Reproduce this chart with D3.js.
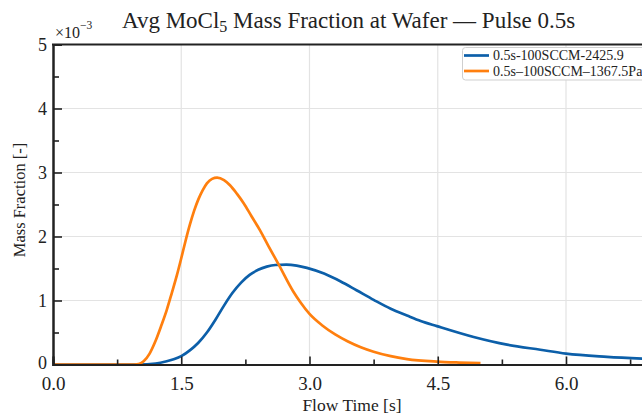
<!DOCTYPE html>
<html><head><meta charset="utf-8">
<script src="https://cdn.jsdelivr.net/npm/d3@7"></script>
<style>
html,body{margin:0;padding:0;background:#fff;overflow:hidden;}
svg{display:block;font-family:"Liberation Serif","Times New Roman",serif;}
</style></head>
<body><svg id="c" width="642" height="418"></svg>
<script>
// ---- data (mass fraction in units of 1e-3) ----
const seriesNames = ["0.5s-100SCCM-2425.9", "0.5s\u2013100SCCM\u20131367.5Pa"];
const blueTime = [0, 1.0, 1.2, 1.33, 1.42, 1.50, 1.60, 1.70, 1.80, 1.90, 2.00, 2.10, 2.20, 2.30, 2.40, 2.50, 2.60, 2.73, 2.85, 2.97, 3.17, 3.36, 3.55, 3.75, 3.95, 4.14, 4.30, 4.49, 4.92, 5.31, 5.70, 6.00, 6.48, 7.00];
const blueVals = [0, 0, 0.015, 0.05, 0.085, 0.13, 0.22, 0.34, 0.50, 0.70, 0.92, 1.12, 1.28, 1.40, 1.48, 1.53, 1.555, 1.56, 1.545, 1.51, 1.42, 1.30, 1.16, 1.01, 0.87, 0.765, 0.68, 0.60, 0.43, 0.31, 0.23, 0.17, 0.12, 0.085];
const orangeTime = [0, 0.95, 1.0, 1.06, 1.13, 1.20, 1.27, 1.33, 1.39, 1.45, 1.50, 1.55, 1.60, 1.65, 1.70, 1.75, 1.80, 1.86, 1.92, 2.00, 2.07, 2.15, 2.23, 2.32, 2.42, 2.52, 2.64, 2.81, 2.90, 3.00, 3.15, 3.30, 3.45, 3.60, 3.75, 3.95, 4.14, 4.49, 4.75, 5.00];
const orangeVals = [0, 0, 0.005, 0.05, 0.17, 0.37, 0.62, 0.85, 1.12, 1.40, 1.66, 1.93, 2.18, 2.40, 2.58, 2.72, 2.83, 2.90, 2.92, 2.88, 2.80, 2.67, 2.52, 2.32, 2.10, 1.85, 1.56, 1.14, 0.96, 0.79, 0.61, 0.47, 0.36, 0.27, 0.20, 0.13, 0.085, 0.045, 0.03, 0.02];
const xMajorTicks = [0, 1.5, 3.0, 4.5, 6.0];
const xMinorTicks = [0.75, 2.25, 3.75, 5.25, 6.75];
const yMajorTicks = [0, 1, 2, 3, 4, 5];
const yMinorTicks = [0.5, 1.5, 2.5, 3.5, 4.5];
const colors = ["#0c5fa9", "#ff7f0e"];

const svg = d3.select("#c");
const x = d3.scaleLinear().domain([0, 7]).range([53, 651.5]);
const y = d3.scaleLinear().domain([0, 5]).range([364.5, 44.5]);

// grid
svg.append("g").selectAll("line").data(xMajorTicks.filter(d => d > 0)).join("line")
  .attr("x1", d => x(d)).attr("x2", d => x(d)).attr("y1", y(0)).attr("y2", y(5))
  .attr("stroke", "#e3e3e3").attr("stroke-width", 1.2);
svg.append("g").selectAll("line").data(yMajorTicks.filter(d => d > 0 && d < 5)).join("line")
  .attr("x1", x(0)).attr("x2", x(7)).attr("y1", d => y(d)).attr("y2", d => y(d))
  .attr("stroke", "#e3e3e3").attr("stroke-width", 1.2);

// lines
const line = d3.line().x(d => x(d[0])).y(d => y(d[1])).curve(d3.curveMonotoneX);
const blueData = blueTime.map((t, i) => [t, blueVals[i]]);
const orangeData = orangeTime.map((t, i) => [t, orangeVals[i]]);
svg.append("path").datum(blueData).attr("d", line).attr("fill", "none")
  .attr("stroke", colors[0]).attr("stroke-width", 2.7).attr("stroke-linejoin", "round");
svg.append("path").datum(orangeData).attr("d", line).attr("fill", "none")
  .attr("stroke", colors[1]).attr("stroke-width", 2.7).attr("stroke-linejoin", "round");

// axes
const axisColor = "#222";
const xAxis = svg.append("g").attr("transform", `translate(0,${y(0)})`)
  .call(d3.axisBottom(x).tickValues(xMajorTicks).tickFormat(d3.format(".1f")).tickSize(-8).tickPadding(14));
const xMinor = svg.append("g").attr("transform", `translate(0,${y(0)})`)
  .call(d3.axisBottom(x).tickValues(xMinorTicks).tickFormat("").tickSize(-5));
const yAxis = svg.append("g").attr("transform", `translate(${x(0)},0)`)
  .call(d3.axisLeft(y).tickValues(yMajorTicks).tickFormat(d3.format("d")).tickSize(-9).tickPadding(6));
const yMinor = svg.append("g").attr("transform", `translate(${x(0)},0)`)
  .call(d3.axisLeft(y).tickValues(yMinorTicks).tickFormat("").tickSize(-6));
[xAxis, xMinor, yAxis, yMinor].forEach(g => {
  g.select(".domain").attr("stroke", axisColor).attr("stroke-width", 2);
  g.selectAll(".tick line").attr("stroke", axisColor).attr("stroke-width", 1.6);
  g.selectAll("text").attr("fill", "#222").style("font-size", "18px")
    .style("font-family", '"Liberation Serif","Times New Roman",serif');
});
xAxis.selectAll("text").attr("dy", "0.6em").style("font-size", "19px");
yAxis.selectAll("text").attr("dy", d => d === 0 ? "0.2em" : "0.36em");
// top frame
svg.append("line").attr("x1", x(0) - 1).attr("x2", x(7)).attr("y1", y(5)).attr("y2", y(5))
  .attr("stroke", axisColor).attr("stroke-width", 2);

// exponent
const ex = svg.append("text").attr("x", 55).attr("y", 37.5).attr("fill", "#222").style("font-size", "16px");
ex.append("tspan").text("\u00d710");
ex.append("tspan").attr("dy", -9).style("font-size", "11.5px").text("\u22123");

// title
const title = svg.append("text").attr("x", 122).attr("y", 28).attr("text-anchor", "start")
  .attr("fill", "#222").style("font-size", "23px");
title.append("tspan").text("Avg MoCl");
title.append("tspan").attr("dy", 4).style("font-size", "16px").text("5");
title.append("tspan").attr("dy", -4).text(" Mass Fraction at Wafer \u2014 Pulse 0.5s");

// axis labels
svg.append("text").attr("x", 352).attr("y", 411).attr("text-anchor", "middle")
  .attr("fill", "#222").style("font-size", "17.5px").text("Flow Time [s]");
svg.append("text").attr("transform", "translate(25,200) rotate(-90)").attr("text-anchor", "middle")
  .attr("fill", "#222").style("font-size", "16.5px").text("Mass Fraction [-]");

// legend
const lg = svg.append("g");
lg.append("rect").attr("x", 462.5).attr("y", 47.5).attr("width", 192).attr("height", 32.5)
  .attr("rx", 3).attr("fill", "#fff").attr("stroke", "#cfcfcf").attr("stroke-width", 1);
seriesNames.forEach((n, i) => {
  const yy = 55.5 + i * 15.5;
  lg.append("line").attr("x1", 464).attr("x2", 489).attr("y1", yy).attr("y2", yy)
    .attr("stroke", colors[i]).attr("stroke-width", 2.7);
  lg.append("text").attr("x", 493).attr("y", yy + 4.6).attr("fill", "#222")
    .style("font-size", "14px").text(n);
});
</script></body></html>
